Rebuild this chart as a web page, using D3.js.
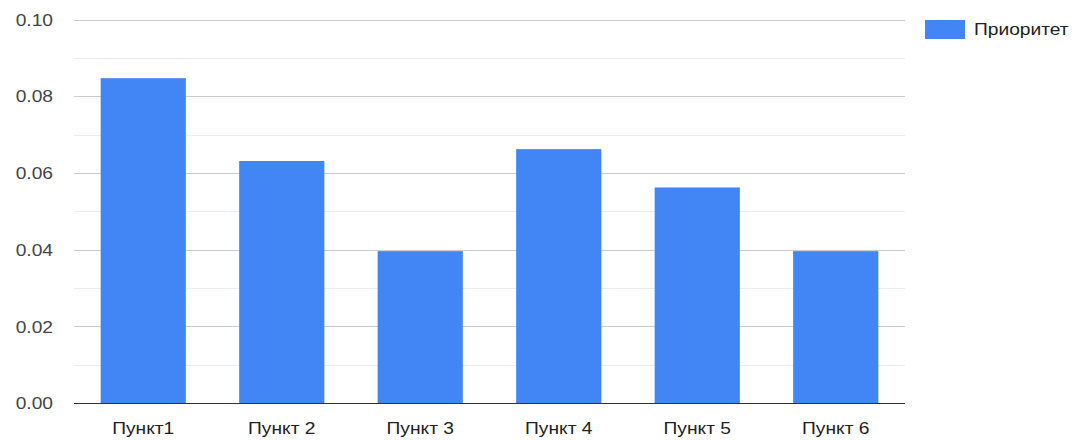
<!DOCTYPE html>
<html>
<head>
<meta charset="utf-8">
<script src="https://cdn.jsdelivr.net/npm/d3@7"></script>
<style>
  html, body { margin: 0; padding: 0; background: #fff; }
  svg { display: block; font-family: "Liberation Sans", Arial, sans-serif; }
</style>
</head>
<body>
<svg id="chart" width="1088" height="440"></svg>
<script>
// Priority per item
const categories = ["Пункт1", "Пункт 2", "Пункт 3", "Пункт 4", "Пункт 5", "Пункт 6"];
const priority = [0.0847, 0.0631, 0.0396, 0.0662, 0.0562, 0.0396];
const yTicks = [0, 0.02, 0.04, 0.06, 0.08, 0.10];
const yMinorTicks = [0.01, 0.03, 0.05, 0.07, 0.09];
const seriesName = "Приоритет";

const svg = d3.select("#chart");
const plot = { left: 74, right: 905, top: 19.5, bottom: 403 };
const fontSize = 16;
const stretch = "scale(1.2,1)"; // wide lettering used throughout

const x = d3.scaleBand()
  .domain(categories)
  .range([plot.left, plot.right])
  .paddingInner(0.385)
  .paddingOuter(0.1925);

const y = d3.scaleLinear()
  .domain([0, 0.10])
  .range([plot.bottom, plot.top]);

// Minor gridlines
svg.append("g")
  .selectAll("line")
  .data(yMinorTicks)
  .join("line")
  .attr("x1", plot.left).attr("x2", plot.right)
  .attr("y1", d => Math.round(y(d)) + 0.5).attr("y2", d => Math.round(y(d)) + 0.5)
  .attr("stroke", "#ececec").attr("stroke-width", 1);

// Major gridlines
svg.append("g")
  .selectAll("line")
  .data(yTicks.filter(d => d > 0))
  .join("line")
  .attr("x1", plot.left).attr("x2", plot.right)
  .attr("y1", d => Math.round(y(d)) + 0.5).attr("y2", d => Math.round(y(d)) + 0.5)
  .attr("stroke", "#cccccc").attr("stroke-width", 1);

// Y axis labels
const yAxis = d3.axisLeft(y)
  .tickValues(yTicks)
  .tickFormat(d3.format(".2f"))
  .tickSize(0)
  .tickPadding(0);
const gy = svg.append("g")
  .attr("transform", "translate(53,0)")
  .call(yAxis);
gy.select(".domain").remove();
gy.selectAll(".tick text")
  .attr("x", 0)
  .attr("dy", "0.36em")
  .attr("transform", stretch)
  .attr("fill", "#444")
  .attr("font-size", fontSize)
  .attr("font-family", "Liberation Sans, Arial, sans-serif");

// Bars
svg.append("g")
  .selectAll("rect")
  .data(categories.map((c, i) => ({ c, v: priority[i] })))
  .join("rect")
  .attr("x", d => x(d.c))
  .attr("width", x.bandwidth())
  .attr("y", d => y(d.v))
  .attr("height", d => y(0) - y(d.v))
  .attr("fill", "#4285f4");

// Baseline and category labels
const xAxis = d3.axisBottom(x).tickSize(0).tickPadding(0);
const gx = svg.append("g")
  .attr("transform", `translate(0,${plot.bottom})`)
  .call(xAxis);
gx.select(".domain")
  .attr("stroke", "#333")
  .attr("stroke-width", 1.2)
  .attr("d", `M${plot.left},0.5H${plot.right}`);
gx.selectAll(".tick text")
  .attr("y", 31)
  .attr("dy", 0)
  .attr("transform", stretch)
  .attr("fill", "#222")
  .attr("font-size", fontSize)
  .attr("font-family", "Liberation Sans, Arial, sans-serif");

// Legend
const legend = svg.append("g").attr("transform", "translate(925,20)");
legend.append("rect")
  .attr("width", 40).attr("height", 19)
  .attr("fill", "#4285f4");
legend.append("text")
  .attr("transform", `translate(49,14.5) ${stretch}`)
  .attr("fill", "#222")
  .attr("font-size", fontSize)
  .text(seriesName);
</script>
</body>
</html>
